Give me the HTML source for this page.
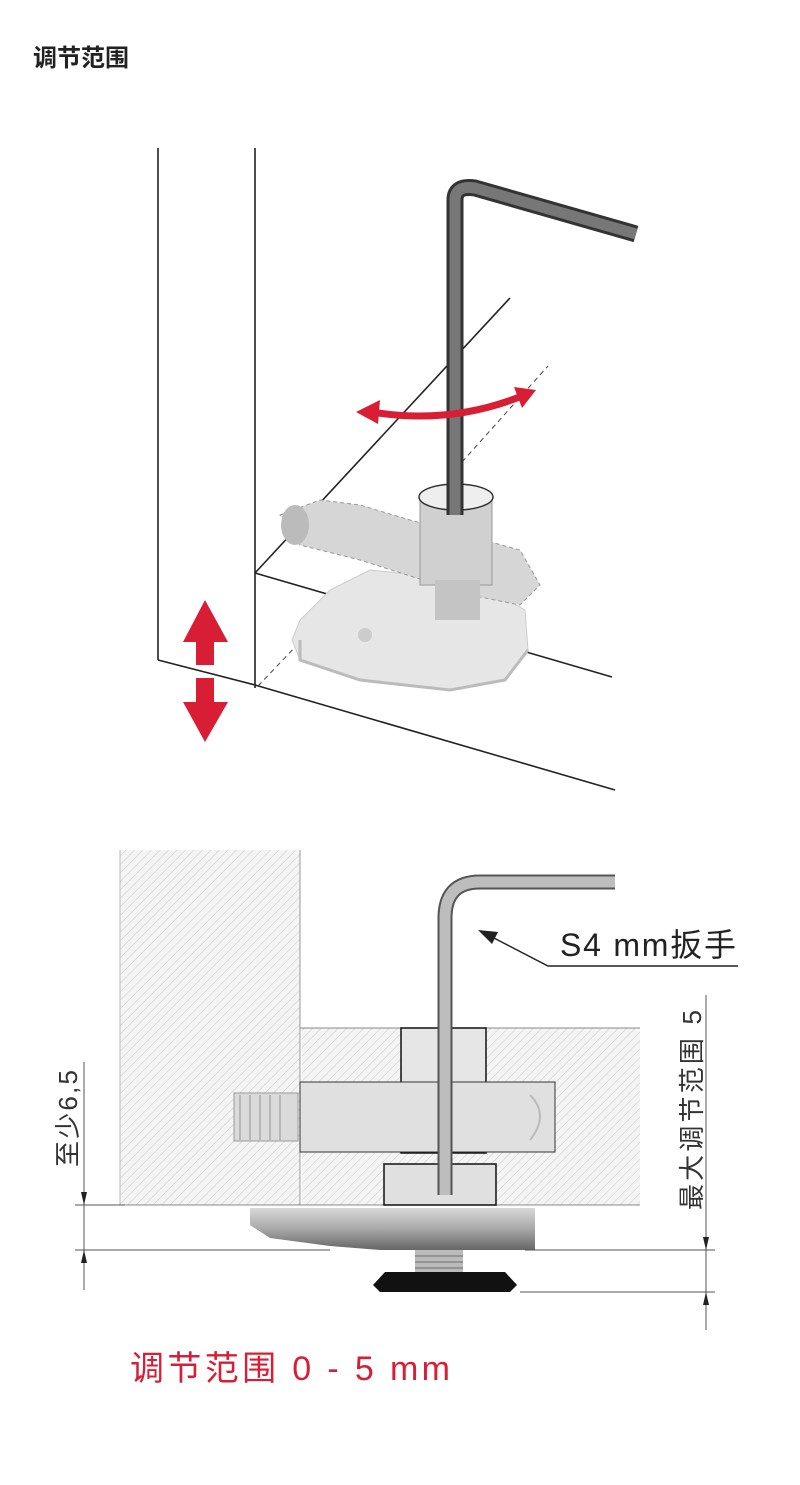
<!DOCTYPE html>
<html><head><meta charset="utf-8"><style>
html,body{margin:0;padding:0;background:#fff;width:800px;height:1485px;overflow:hidden}
svg{display:block}
</style></head><body>
<svg width="800" height="1485" viewBox="0 0 800 1485" xmlns="http://www.w3.org/2000/svg">
<defs>
<pattern id="h" width="6" height="6" patternUnits="userSpaceOnUse" patternTransform="rotate(45)">
<rect width="6" height="6" fill="#f4f4f4"/><line x1="0" y1="0" x2="0" y2="6" stroke="#c8c8c8" stroke-width="1"/>
</pattern>
<linearGradient id="pl" x1="0" y1="0" x2="0" y2="1"><stop offset="0" stop-color="#d8d8d8"/><stop offset="0.5" stop-color="#a8a8a8"/><stop offset="1" stop-color="#666"/></linearGradient>
</defs>
<text x="33" y="66" font-family="'Liberation Sans','Noto Sans CJK SC',sans-serif" font-size="24" font-weight="bold" fill="#222">调节范围</text>

<g stroke="#222" stroke-width="1.6" fill="none">
<line x1="158" y1="148" x2="158" y2="660"/>
<line x1="255" y1="148" x2="255" y2="688"/>
<line x1="158" y1="660" x2="255" y2="685"/>
<line x1="255" y1="685" x2="615" y2="790"/>
<line x1="255" y1="573" x2="612" y2="677"/>
<line x1="255" y1="573" x2="510" y2="298"/>
</g>
<g stroke="#444" stroke-width="1" stroke-dasharray="5,4" fill="none">
<line x1="258" y1="686" x2="340" y2="600"/>
<line x1="462" y1="462" x2="548" y2="366"/>
</g>
<path d="M300 620 L330 590 L370 570 L420 575 L490 590 L525 610 L528 650 L505 680 L450 690 L360 680 L300 660 L292 640 Z" fill="#e6e6e6" stroke="#ccc"/>
<path d="M300 640 L300 660 L360 680 L450 690 L505 680 L528 650" fill="none" stroke="#bbb" stroke-width="3"/>
<circle cx="365" cy="635" r="7" fill="#ccc"/>
<path d="M280 515 L320 500 L360 505 L410 520 L520 550 L540 585 L520 605 L470 595 L360 560 L300 545 Z" fill="#d6d6d6" stroke="#999" stroke-width="1" stroke-dasharray="4,3"/>
<ellipse cx="295" cy="525" rx="14" ry="20" fill="#bbb"/>
<rect x="420" y="495" width="72" height="90" fill="#d0d0d0" stroke="#999"/>
<ellipse cx="456" cy="497" rx="37" ry="13" fill="#eee" stroke="#333" stroke-width="1.5"/>
<rect x="435" y="580" width="45" height="40" fill="#c4c4c4"/>
<path d="M455 515 L455 200 Q455 185 475 188 L636 234" fill="none" stroke="#333" stroke-width="17" stroke-linejoin="round"/>
<path d="M455 515 L455 200 Q455 185 475 188 L636 234" fill="none" stroke="#777" stroke-width="11"/>
<path d="M372 412 Q450 425 522 396" fill="none" stroke="#d81e35" stroke-width="7"/>
<polygon points="356,412 380,400 378,424" fill="#d81e35"/>
<polygon points="536,390 514,387 522,408" fill="#d81e35"/>
<polygon points="205,600 228,642 214,642 214,665 196,665 196,642 183,642" fill="#d81e35"/>
<polygon points="205,742 228,702 214,702 214,678 196,678 196,702 183,702" fill="#d81e35"/>

<rect x="120" y="850" width="180" height="355" fill="url(#h)"/>
<line x1="120" y1="850" x2="120" y2="1205" stroke="#bbb"/>
<line x1="300" y1="850" x2="300" y2="1205" stroke="#999"/>
<rect x="302" y="1028" width="338" height="177" fill="url(#h)"/>
<line x1="300" y1="1028" x2="640" y2="1028" stroke="#888"/>
<line x1="120" y1="1205" x2="640" y2="1205" stroke="#888"/>
<rect x="401" y="1028" width="85" height="125" fill="#e6e6e6" stroke="#111" stroke-width="1.5"/>
<rect x="384" y="1164" width="112" height="41" fill="#e0e0e0" stroke="#111" stroke-width="1.5"/>
<rect x="300" y="1082" width="255" height="70" fill="#e0e0e0" stroke="#333" stroke-width="1"/>
<rect x="234" y="1093" width="64" height="48" fill="#dadada" stroke="#999"/>
<g stroke="#aaa" stroke-width="1.5"><line x1="240" y1="1095" x2="240" y2="1140"/><line x1="250" y1="1095" x2="250" y2="1140"/><line x1="260" y1="1095" x2="260" y2="1140"/><line x1="270" y1="1095" x2="270" y2="1140"/><line x1="280" y1="1095" x2="280" y2="1140"/></g>
<path d="M530 1095 Q550 1115 530 1140" fill="none" stroke="#bbb" stroke-width="2"/>
<path d="M250 1208 L535 1208 L535 1250 L380 1250 L330 1246 L270 1238 L250 1225 Z" fill="url(#pl)"/>
<rect x="415" y="1250" width="48" height="22" fill="#bbb"/>
<g stroke="#888" stroke-width="1.5"><line x1="415" y1="1256" x2="463" y2="1256"/><line x1="415" y1="1262" x2="463" y2="1262"/><line x1="415" y1="1268" x2="463" y2="1268"/></g>
<path d="M385 1272 L505 1272 L517 1285 L510 1292 L380 1292 L373 1285 Z" fill="#111"/>
<path d="M445 1195 L445 918 Q445 882 480 882 L615 882" fill="none" stroke="#555" stroke-width="15"/>
<path d="M445 1195 L445 918 Q445 882 480 882 L615 882" fill="none" stroke="#bdbdbd" stroke-width="11"/>
<text x="560" y="956" font-family="'Liberation Sans','Noto Sans CJK SC',sans-serif" font-size="32" fill="#222" textLength="176">S4 mm扳手</text>
<polyline points="738,966 548,966 490,936" fill="none" stroke="#222" stroke-width="1.5"/>
<polygon points="478,930 498,932 492,944" fill="#222"/>
<g stroke="#555" stroke-width="1" fill="none">
<line x1="84" y1="1062" x2="84" y2="1290"/>
<line x1="75" y1="1205" x2="125" y2="1205"/>
<line x1="75" y1="1250" x2="330" y2="1250"/>
<line x1="706" y1="995" x2="706" y2="1330"/>
<line x1="525" y1="1250" x2="715" y2="1250"/>
<line x1="520" y1="1292" x2="715" y2="1292"/>
</g>
<g fill="#222">
<polygon points="84,1205 81,1192 87,1192"/><polygon points="84,1250 81,1263 87,1263"/>
<polygon points="706,1250 703,1237 709,1237"/><polygon points="706,1292 703,1305 709,1305"/>
</g>
<text transform="translate(77,1167) rotate(-90)" font-family="'Liberation Sans','Noto Sans CJK SC',sans-serif" font-size="26" fill="#333" textLength="97">至少6,5</text>
<text transform="translate(701,1210) rotate(-90)" font-family="'Liberation Sans','Noto Sans CJK SC',sans-serif" font-size="26" fill="#333" textLength="200">最大调节范围 5</text>
<text x="130" y="1380" font-family="'Liberation Sans','Noto Sans CJK SC',sans-serif" font-size="34" fill="#d81e35" textLength="320">调节范围 0 - 5 mm</text>
</svg>
</body></html>
